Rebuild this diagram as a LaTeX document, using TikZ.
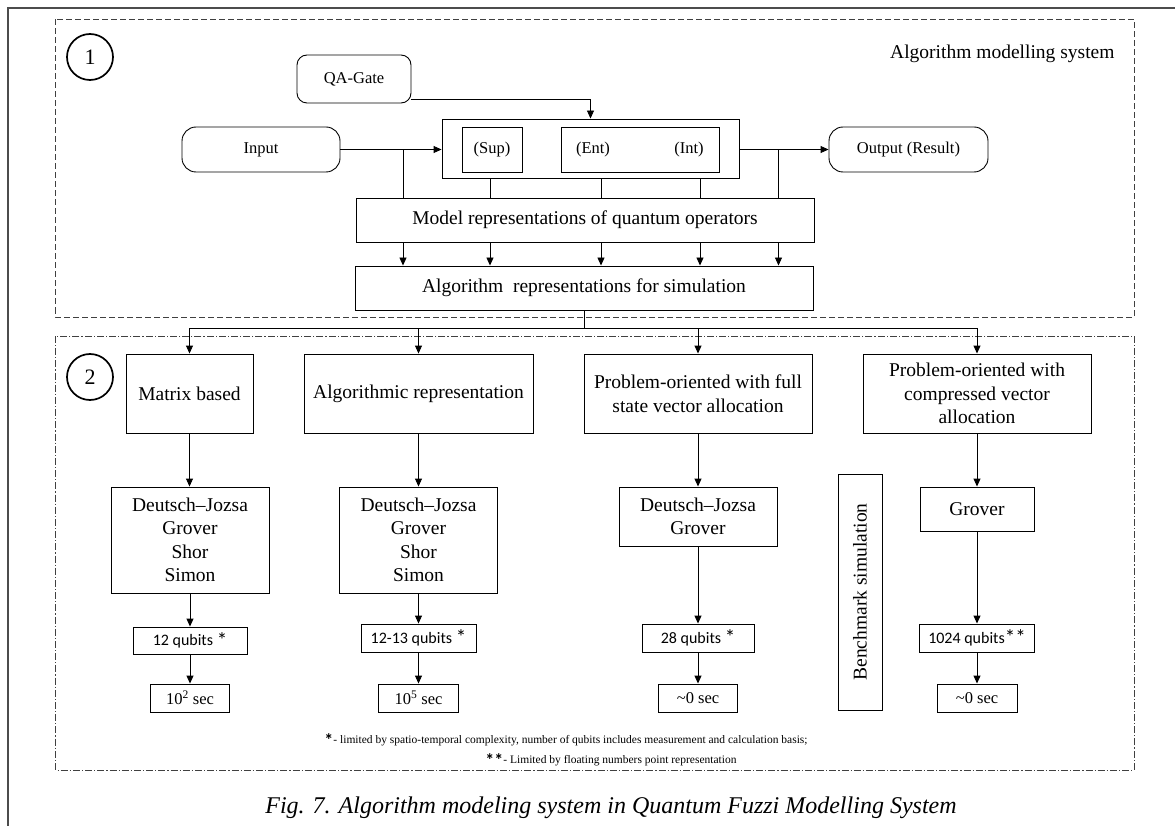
\documentclass[tikz,border=0pt]{standalone}
\usepackage{fontspec}
\setmainfont{Liberation Serif}
\newfontfamily\calfont{Carlito}
\usetikzlibrary{arrows.meta}

\newcommand\bigtxt{\fontsize{19.5}{23.5}\selectfont}
\newcommand\midtxt{\fontsize{16.5}{20}\selectfont}
\newcommand\qtxt{\calfont\fontsize{16}{19}\selectfont}
\newcommand\qstar{{\fontsize{21}{21}\selectfont\raisebox{-1.5pt}{*}}}
\newcommand\fnstar{{\calfont\bfseries\fontsize{18}{18}\selectfont\raisebox{-3.5pt}{*}}}

\tikzset{
  x=1pt, y=-1pt,
  box/.style={draw, line width=0.9pt, inner sep=0pt, align=center, font=\bigtxt},
  smallbox/.style={box, font=\midtxt},
  qbox/.style={box, font=\qtxt},
  arr/.style={line width=0.9pt, -{Triangle[length=8pt,width=7pt]}},
  link/.style={line width=0.9pt},
  numcirc/.style={circle, draw, line width=1.7pt, minimum size=46pt, inner sep=0pt,
                  font=\fontsize{22}{22}\selectfont},
  note/.style={font=\fontsize{11.5}{14}\selectfont, inner sep=0pt, anchor=base},
}

\begin{document}
\begin{tikzpicture}
\useasboundingbox (0,0) rectangle (1175,826);

% outer frame (only its left and top edges lie inside the page)
\draw[line width=1.6pt, black!70] (7.7,826) -- (7.7,8) -- (1175,8);

% ---------- part 1: algorithm modelling system ----------
\draw[line width=0.8pt, black!75, dash pattern=on 6pt off 3pt] (55.5,19.5) rectangle (1134,317);
\node[numcirc] (n1) at (90,57) {1};
\node[anchor=base east, font=\bigtxt] (title) at (1118,58.5) {Algorithm modelling system};

\node[smallbox, rounded corners=10pt, minimum width=114pt, minimum height=48pt] (qa) at (354,79) {QA-Gate};
\node[smallbox, rounded corners=14pt, minimum width=158pt, minimum height=45pt] (inp) at (261,149.5) {Input};
\node[box, minimum width=297pt, minimum height=59pt] (ops) at (590.5,148.5) {};
\node[smallbox, minimum width=60pt, minimum height=45pt] (sup) at (492,149.5) {(Sup)};
\node[smallbox, minimum width=158pt, minimum height=45pt] (ent) at (640,149.5) {};
\node[font=\midtxt, inner sep=0pt] (entl) at (593,149.5) {(Ent)};
\node[font=\midtxt, inner sep=0pt] (intl) at (689,149.5) {(Int)};
\node[smallbox, rounded corners=14pt, minimum width=159pt, minimum height=45pt] (out) at (908.5,149.5) {Output (Result)};
\node[box, minimum width=458pt, minimum height=44pt] (model) at (585,220) {Model representations of quantum operators};
\node[box, minimum width=458pt, minimum height=44pt] (alg) at (584,288) {Algorithm\ \ representations for simulation};

% taps between the operator block and the two representation boxes
\coordinate (jin) at (403,149.5);
\coordinate (jout) at (778.5,149.5);
\coordinate (c1) at (490,0);
\coordinate (c2) at (601,0);
\coordinate (c3) at (700,0);

\draw[arr] ([yshift=3.5pt]qa.south east) -| (ops.north);
\draw[arr] (inp.east) -- (inp.east -| ops.west);
\draw[arr] (ops.east |- out.west) -- (out.west);
\draw[link] (jin) -- (jin |- model.north);
\draw[link] (jout) -- (jout |- model.north);
\foreach \c in {c1,c2,c3} \draw[link] (\c |- ops.south) -- (\c |- model.north);
\foreach \c in {jin,c1,c2,c3,jout} \draw[arr] (\c |- model.south) -- (\c |- alg.north);

% ---------- part 2: simulation approaches ----------
\draw[line width=0.8pt, black!75, dash pattern=on 7pt off 2pt on 1.2pt off 2pt] (55.5,336) rectangle (1134,770);
\node[numcirc] (n2) at (90,377) {2};

\node[box, minimum width=127pt, minimum height=79pt] (mat) at (189.5,393.5) {Matrix based};
\node[box, minimum width=229pt, minimum height=79pt] (arep) at (418.5,393.5) {Algorithmic representation};
\node[box, minimum width=228pt, minimum height=79pt] (pfull) at (698,393.5) {Problem-oriented with full\\state vector allocation};
\node[box, minimum width=228pt, minimum height=79pt] (pcomp) at (977,393.5) {Problem-oriented with\\compressed vector\\allocation};

\node[box, minimum width=158pt, minimum height=106pt] (dj1) at (190,540) {Deutsch–Jozsa\\Grover\\Shor\\Simon};
\node[box, minimum width=158pt, minimum height=106pt] (dj2) at (418.5,540) {Deutsch–Jozsa\\Grover\\Shor\\Simon};
\node[box, minimum width=158pt, minimum height=59pt] (dj3) at (698,516.5) {Deutsch–Jozsa\\Grover};
\node[box, minimum width=114pt, minimum height=44pt] (grov) at (977,509) {Grover};
\node[box, rotate=90, minimum width=236pt, minimum height=44pt] (bench) at (860,592) {Benchmark simulation};

\node[qbox, minimum width=114pt, minimum height=27pt] (q1) at (190,640.5) {12 qubits \qstar};
\node[qbox, minimum width=115pt, minimum height=28pt] (q2) at (418.5,638) {12-13 qubits \qstar};
\node[qbox, minimum width=112pt, minimum height=28pt] (q3) at (698,638) {28 qubits \qstar};
\node[qbox, minimum width=115pt, minimum height=28pt] (q4) at (977,638) {1024 qubits\qstar\qstar};

\node[smallbox, minimum width=79pt, minimum height=28pt] (s1) at (190,698) {10\textsuperscript{2} sec};
\node[smallbox, minimum width=80pt, minimum height=28pt] (s2) at (418.5,698) {10\textsuperscript{5} sec};
\node[smallbox, minimum width=79pt, minimum height=28pt] (s3) at (698,698) {\textasciitilde0 sec};
\node[smallbox, minimum width=80pt, minimum height=28pt] (s4) at (977,698) {\textasciitilde0 sec};

% distribution bus from the simulation representation box
\coordinate (bus) at (0,328);
\draw[link] (alg.south) -- (alg.south |- bus);
\draw[link] (mat.north |- bus) -- (pcomp.north |- bus);
\foreach \t in {mat,arep,pfull,pcomp} \draw[arr] (\t.north |- bus) -- (\t.north);

% columns
\foreach \a/\b in {mat/dj1, dj1/q1, q1/s1, arep/dj2, dj2/q2, q2/s2,
                   pfull/dj3, dj3/q3, q3/s3, pcomp/grov, grov/q4, q4/s4}
  \draw[arr] (\a.south) -- (\a.south |- \b.north);

% footnotes
\node[note] (fn1) at (566,743)
  {\fnstar- limited by spatio-temporal complexity, number of qubits includes measurement and calculation basis;};
\node[note] (fn2) at (611,763)
  {\fnstar\fnstar- Limited by floating numbers point representation};

% caption
\node[font=\fontsize{24}{28}\selectfont\itshape, inner sep=0pt] (cap) at (611,808)
  {Fig. 7. Algorithm modeling system in Quantum Fuzzi Modelling System};
\end{tikzpicture}
\end{document}
